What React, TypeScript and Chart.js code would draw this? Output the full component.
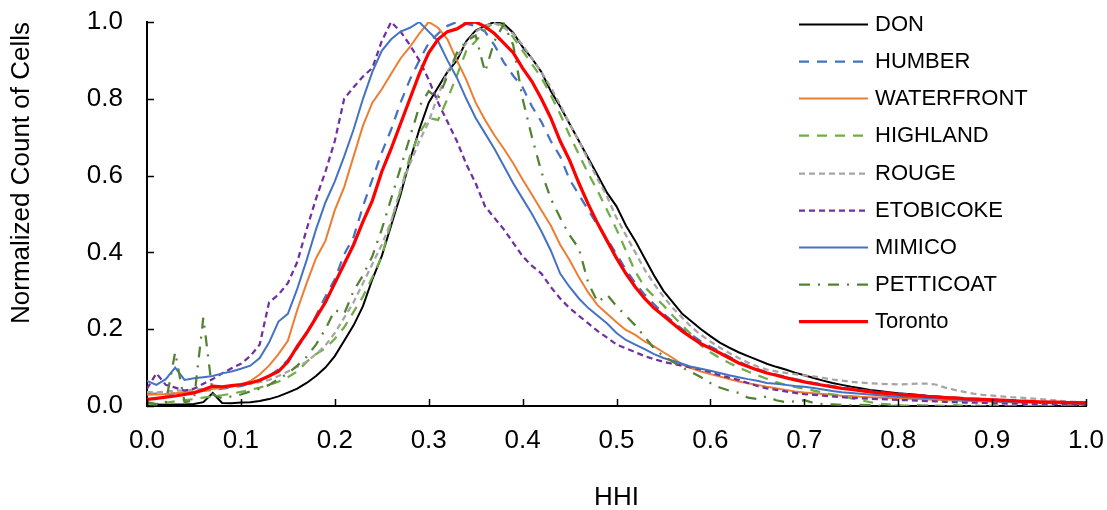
import React, { useEffect, useRef } from "react";
import { Chart, registerables } from "chart.js";

Chart.register(...registerables);

// HHI bins (0.00 .. 1.00, step 0.01)
const HHI_BINS: number[] = Array.from({ length: 101 }, (_, i) => i / 100);

const X_TICK_STEP = 0.1;
const Y_TICK_STEP = 0.2;

const SERIES_NAMES = ["DON", "HUMBER", "WATERFRONT", "HIGHLAND", "ROUGE", "ETOBICOKE", "MIMICO", "PETTICOAT", "Toronto"];

const DON = [
  0.005, 0.004, 0.003, 0.004, 0.004, 0.005, 0.010, 0.034, 0.008, 0.007,
  0.009, 0.010, 0.013, 0.018, 0.025, 0.035, 0.045, 0.060, 0.078, 0.100,
  0.130, 0.170, 0.210, 0.260, 0.330, 0.390, 0.470, 0.550, 0.640, 0.720,
  0.790, 0.830, 0.870, 0.900, 0.950, 0.978, 0.990, 1.000, 0.995, 0.972,
  0.935, 0.905, 0.870, 0.820, 0.780, 0.735, 0.690, 0.645, 0.600, 0.555,
  0.520, 0.470, 0.430, 0.385, 0.340, 0.300, 0.270, 0.240, 0.220, 0.200,
  0.182, 0.165, 0.152, 0.140, 0.130, 0.120, 0.110, 0.102, 0.095, 0.087,
  0.080, 0.073, 0.066, 0.060, 0.055, 0.050, 0.046, 0.042, 0.039, 0.036,
  0.033, 0.031, 0.029, 0.027, 0.025, 0.023, 0.021, 0.019, 0.018, 0.016,
  0.015, 0.014, 0.013, 0.012, 0.011, 0.010, 0.009, 0.008, 0.007, 0.006,
  0.006,
];

const HUMBER = [
  0.030, 0.032, 0.030, 0.033, 0.035, 0.036, 0.040, 0.042, 0.045, 0.048,
  0.052, 0.058, 0.066, 0.078, 0.095, 0.120, 0.150, 0.190, 0.235, 0.285,
  0.330, 0.395, 0.440, 0.520, 0.590, 0.660, 0.720, 0.790, 0.850, 0.900,
  0.945, 0.970, 0.990, 1.000, 0.995, 0.990, 0.975, 0.940, 0.895, 0.860,
  0.830, 0.780, 0.740, 0.690, 0.650, 0.590, 0.550, 0.510, 0.470, 0.435,
  0.395, 0.355, 0.320, 0.290, 0.265, 0.240, 0.220, 0.200, 0.185, 0.168,
  0.155, 0.142, 0.128, 0.116, 0.105, 0.096, 0.088, 0.082, 0.076, 0.070,
  0.065, 0.060, 0.056, 0.052, 0.048, 0.045, 0.042, 0.039, 0.036, 0.034,
  0.032, 0.030, 0.028, 0.026, 0.025, 0.023, 0.022, 0.020, 0.019, 0.018,
  0.017, 0.016, 0.015, 0.014, 0.013, 0.012, 0.011, 0.010, 0.010, 0.009,
  0.009,
];

const WATERFRONT = [
  0.030, 0.030, 0.031, 0.033, 0.035, 0.038, 0.040, 0.044, 0.047, 0.050,
  0.055, 0.065, 0.082, 0.105, 0.135, 0.170, 0.250, 0.320, 0.385, 0.430,
  0.510, 0.570, 0.650, 0.730, 0.790, 0.825, 0.865, 0.905, 0.935, 0.970,
  1.000, 0.985, 0.955, 0.900, 0.850, 0.790, 0.745, 0.705, 0.670, 0.632,
  0.590, 0.550, 0.510, 0.470, 0.420, 0.380, 0.335, 0.295, 0.262, 0.240,
  0.218, 0.198, 0.185, 0.168, 0.155, 0.140, 0.125, 0.108, 0.098, 0.090,
  0.083, 0.077, 0.070, 0.064, 0.059, 0.055, 0.050, 0.046, 0.042, 0.038,
  0.035, 0.033, 0.031, 0.029, 0.027, 0.026, 0.024, 0.023, 0.022, 0.021,
  0.020, 0.019, 0.018, 0.017, 0.016, 0.015, 0.014, 0.013, 0.013, 0.012,
  0.011, 0.010, 0.010, 0.009, 0.009, 0.008, 0.008, 0.007, 0.007, 0.006,
  0.006,
];

const HIGHLAND = [
  0.005, 0.004, 0.008, 0.012, 0.015, 0.018, 0.022, 0.025, 0.028, 0.032,
  0.037, 0.042, 0.048, 0.055, 0.063, 0.075, 0.090, 0.115, 0.135, 0.150,
  0.175, 0.205, 0.245, 0.285, 0.335, 0.390, 0.480, 0.560, 0.650, 0.710,
  0.750, 0.745, 0.800, 0.860, 0.925, 0.950, 0.980, 1.000, 0.990, 0.960,
  0.925, 0.890, 0.855, 0.810, 0.760, 0.705, 0.655, 0.605, 0.560, 0.510,
  0.460, 0.405, 0.350, 0.310, 0.285, 0.262, 0.235, 0.210, 0.185, 0.158,
  0.140, 0.125, 0.112, 0.100, 0.090, 0.080, 0.071, 0.062, 0.055, 0.050,
  0.045, 0.040, 0.035, 0.030, 0.027, 0.020, 0.015, 0.010, 0.006, 0.004,
  0.002, 0.001, 0.002, 0.000, 0.001, 0.000, 0.002, 0.001, 0.000, 0.000,
  0.001, 0.000, 0.000, 0.001, 0.000, 0.000, 0.000, 0.001, 0.000, 0.000,
  0.000,
];

const ROUGE = [
  0.037, 0.035, 0.038, 0.040, 0.040, 0.042, 0.045, 0.047, 0.050, 0.052,
  0.055, 0.058, 0.062, 0.068, 0.078, 0.090, 0.102, 0.115, 0.135, 0.158,
  0.190, 0.230, 0.270, 0.320, 0.370, 0.420, 0.480, 0.565, 0.630, 0.690,
  0.740, 0.810, 0.870, 0.910, 0.945, 0.975, 0.990, 0.997, 0.985, 0.970,
  0.940, 0.905, 0.870, 0.830, 0.785, 0.735, 0.690, 0.640, 0.590, 0.545,
  0.490, 0.445, 0.400, 0.355, 0.318, 0.285, 0.255, 0.230, 0.205, 0.185,
  0.168, 0.152, 0.138, 0.125, 0.113, 0.103, 0.095, 0.090, 0.086, 0.083,
  0.080, 0.077, 0.073, 0.069, 0.066, 0.063, 0.061, 0.059, 0.058, 0.057,
  0.056, 0.057, 0.058, 0.058, 0.056, 0.048, 0.042, 0.037, 0.032, 0.029,
  0.027, 0.025, 0.023, 0.022, 0.020, 0.018, 0.016, 0.014, 0.012, 0.011,
  0.010,
];

const ETOBICOKE = [
  0.045, 0.085, 0.055, 0.048, 0.040, 0.045, 0.058, 0.070, 0.085, 0.098,
  0.110, 0.130, 0.160, 0.270, 0.290, 0.320, 0.375, 0.460, 0.540, 0.610,
  0.690, 0.800, 0.830, 0.858, 0.880, 0.950, 1.000, 0.975, 0.940, 0.900,
  0.850, 0.790, 0.740, 0.690, 0.630, 0.580, 0.520, 0.490, 0.460, 0.425,
  0.390, 0.365, 0.345, 0.310, 0.280, 0.255, 0.235, 0.215, 0.195, 0.178,
  0.160, 0.150, 0.140, 0.130, 0.122, 0.115, 0.110, 0.105, 0.100, 0.095,
  0.088, 0.080, 0.074, 0.068, 0.060, 0.052, 0.046, 0.042, 0.038, 0.034,
  0.031, 0.029, 0.027, 0.025, 0.023, 0.021, 0.020, 0.019, 0.018, 0.017,
  0.016, 0.015, 0.014, 0.013, 0.012, 0.011, 0.010, 0.009, 0.009, 0.008,
  0.007, 0.007, 0.006, 0.006, 0.005, 0.005, 0.004, 0.004, 0.003, 0.003,
  0.002,
];

const MIMICO = [
  0.065, 0.055, 0.070, 0.100, 0.068, 0.072, 0.075, 0.078, 0.085, 0.090,
  0.097, 0.105, 0.125, 0.165, 0.220, 0.240, 0.305, 0.380, 0.460, 0.530,
  0.585, 0.650, 0.720, 0.800, 0.870, 0.925, 0.955, 0.975, 0.985, 1.000,
  0.975, 0.950, 0.900, 0.855, 0.800, 0.750, 0.710, 0.670, 0.625, 0.580,
  0.540, 0.500, 0.455, 0.405, 0.345, 0.310, 0.280, 0.255, 0.235, 0.215,
  0.190, 0.172, 0.160, 0.148, 0.135, 0.125, 0.118, 0.110, 0.102, 0.097,
  0.092, 0.086, 0.080, 0.075, 0.070, 0.066, 0.060, 0.058, 0.055, 0.052,
  0.050, 0.047, 0.043, 0.039, 0.036, 0.034, 0.032, 0.030, 0.028, 0.026,
  0.024, 0.023, 0.022, 0.021, 0.020, 0.019, 0.017, 0.016, 0.015, 0.014,
  0.013, 0.012, 0.011, 0.010, 0.010, 0.009, 0.008, 0.008, 0.007, 0.007,
  0.006,
];

const PETTICOAT = [
  0.010, 0.005, 0.008, 0.140, 0.010, 0.015, 0.230, 0.030, 0.020, 0.025,
  0.030, 0.038, 0.045, 0.055, 0.070, 0.085, 0.105, 0.128, 0.160, 0.200,
  0.250, 0.240, 0.300, 0.340, 0.390, 0.460, 0.540, 0.620, 0.700, 0.780,
  0.820, 0.800, 0.860, 0.920, 0.950, 0.965, 0.870, 0.950, 0.995, 0.940,
  0.800, 0.700, 0.610, 0.540, 0.490, 0.445, 0.410, 0.320, 0.270, 0.290,
  0.260, 0.235, 0.210, 0.180, 0.150, 0.130, 0.115, 0.100, 0.088, 0.075,
  0.060, 0.048, 0.040, 0.034, 0.022, 0.018, 0.025, 0.015, 0.010, 0.012,
  0.015, 0.008, 0.005, 0.004, 0.003, 0.002, 0.003, 0.002, 0.001, 0.000,
  0.001, 0.000, 0.000, 0.001, 0.000, 0.000, 0.000, 0.000, 0.001, 0.000,
  0.000, 0.000, 0.000, 0.000, 0.000, 0.000, 0.000, 0.000, 0.000, 0.000,
  0.000,
];

const TORONTO = [
  0.017, 0.020, 0.023, 0.026, 0.030, 0.034, 0.042, 0.052, 0.050, 0.053,
  0.056, 0.060, 0.067, 0.078, 0.090, 0.115, 0.155, 0.190, 0.230, 0.270,
  0.320, 0.370, 0.420, 0.480, 0.535, 0.610, 0.670, 0.735, 0.800, 0.865,
  0.920, 0.955, 0.975, 0.982, 0.997, 1.000, 0.988, 0.970, 0.945, 0.920,
  0.880, 0.845, 0.800, 0.750, 0.690, 0.640, 0.580, 0.525, 0.475, 0.430,
  0.385, 0.345, 0.310, 0.280, 0.255, 0.235, 0.215, 0.195, 0.178, 0.162,
  0.150, 0.138, 0.125, 0.112, 0.103, 0.094, 0.086, 0.080, 0.074, 0.068,
  0.063, 0.058, 0.054, 0.050, 0.046, 0.043, 0.040, 0.037, 0.034, 0.032,
  0.030, 0.028, 0.027, 0.025, 0.024, 0.022, 0.021, 0.019, 0.018, 0.017,
  0.016, 0.015, 0.014, 0.013, 0.012, 0.011, 0.010, 0.010, 0.009, 0.009,
  0.008,
];

const SERIES_VALUES = [DON, HUMBER, WATERFRONT, HIGHLAND, ROUGE, ETOBICOKE, MIMICO, PETTICOAT, TORONTO];

const STYLES = [
  { color: "#000000", width: 2, dash: [] as number[] },
  { color: "#4472C4", width: 2.25, dash: [10, 8] },
  { color: "#ED7D31", width: 2, dash: [] as number[] },
  { color: "#70AD47", width: 2.25, dash: [10, 8] },
  { color: "#A5A5A5", width: 2.25, dash: [6, 4] },
  { color: "#7030A0", width: 2.25, dash: [6, 4] },
  { color: "#4472C4", width: 2, dash: [] as number[] },
  { color: "#548235", width: 2.25, dash: [11, 8, 2, 8] },
  { color: "#FF0000", width: 3.25, dash: [] as number[] },
];

const FONT_FAMILY = '"Liberation Sans", Arial, Helvetica, sans-serif';

const innerTicksPlugin = {
  id: "innerTicks",
  afterDatasetsDraw(chart: any) {
    const { ctx, chartArea, scales } = chart;
    ctx.save();
    ctx.strokeStyle = "#000";
    ctx.lineWidth = 1.5;
    scales.x.ticks.forEach((t: any) => {
      const px = Math.round(scales.x.getPixelForValue(t.value)) + 0.5;
      ctx.beginPath();
      ctx.moveTo(px, chartArea.bottom);
      ctx.lineTo(px, chartArea.bottom - 7);
      ctx.stroke();
    });
    scales.y.ticks.forEach((t: any) => {
      const py = Math.round(scales.y.getPixelForValue(t.value)) + 0.5;
      ctx.beginPath();
      ctx.moveTo(chartArea.left, py);
      ctx.lineTo(chartArea.left + 7, py);
      ctx.stroke();
    });
    ctx.restore();
  },
};

const legendPlugin = {
  id: "lineLegend",
  afterDraw(chart: any) {
    const { ctx } = chart;
    const top = 24;
    const step = 37.15;
    ctx.save();
    chart.data.datasets.forEach((ds: any, i: number) => {
      const y = Math.round(top + i * step) + 0.5;
      ctx.beginPath();
      ctx.setLineDash(ds.borderDash || []);
      ctx.strokeStyle = ds.borderColor;
      ctx.lineWidth = ds.borderWidth;
      ctx.moveTo(799, y);
      ctx.lineTo(868, y);
      ctx.stroke();
      ctx.setLineDash([]);
      ctx.fillStyle = "#000";
      ctx.font = `22px ${FONT_FAMILY}`;
      ctx.textAlign = "left";
      ctx.textBaseline = "middle";
      ctx.fillText(ds.label, 875, y);
    });
    ctx.restore();
  },
};

export default function App() {
  const canvasRef = useRef<HTMLCanvasElement | null>(null);

  useEffect(() => {
    if (!canvasRef.current) return;
    const datasets = SERIES_NAMES.map((name, i) => ({
      label: name,
      data: HHI_BINS.map((x, j) => ({ x, y: SERIES_VALUES[i][j] })),
      borderColor: STYLES[i].color,
      backgroundColor: STYLES[i].color,
      borderWidth: STYLES[i].width,
      borderDash: STYLES[i].dash,
      pointRadius: 0,
      tension: 0,
      fill: false,
      order: SERIES_NAMES.length - i,
    }));

    const chart = new Chart(canvasRef.current, {
      type: "line",
      data: { datasets },
      options: {
        animation: false,
        responsive: true,
        maintainAspectRatio: false,
        layout: { padding: { top: 22, right: 21, left: 0, bottom: 0 } },
        plugins: {
          legend: { display: false },
          tooltip: { enabled: false },
        },
        scales: {
          x: {
            type: "linear",
            min: 0,
            max: 1,
            grid: { display: false, drawTicks: true, tickLength: 19 },
            border: { display: true, color: "#000", width: 2 },
            ticks: {
              stepSize: X_TICK_STEP,
              padding: 0,
              color: "#000",
              font: { family: FONT_FAMILY, size: 26 },
              callback: (v: any) => Number(v).toFixed(1),
              maxRotation: 0,
            },
            title: {
              display: true,
              text: "HHI",
              color: "#000",
              font: { family: FONT_FAMILY, size: 26 },
              padding: { top: 0, bottom: -3 },
            },
            afterFit: (scale: any) => {
              scale.height = 104;
            },
          },
          y: {
            type: "linear",
            min: 0,
            max: 1,
            grid: { display: false, drawTicks: true, tickLength: 24 },
            border: { display: true, color: "#000", width: 2 },
            ticks: {
              stepSize: Y_TICK_STEP,
              padding: 0,
              color: "#000",
              font: { family: FONT_FAMILY, size: 26 },
              callback: (v: any) => Number(v).toFixed(1),
            },
            title: {
              display: true,
              text: "Normalized Count of Cells",
              align: "end",
              color: "#000",
              font: { family: FONT_FAMILY, size: 26 },
              padding: { top: 6, bottom: 0 },
            },
            afterFit: (scale: any) => {
              scale.width = 147;
            },
          },
        },
      },
      plugins: [innerTicksPlugin, legendPlugin],
    } as any);

    return () => chart.destroy();
  }, []);

  return (
    <div style={{ position: "absolute", left: 0, top: 0, width: 1107, height: 510, background: "#fff" }}>
      <canvas ref={canvasRef} />
    </div>
  );
}
